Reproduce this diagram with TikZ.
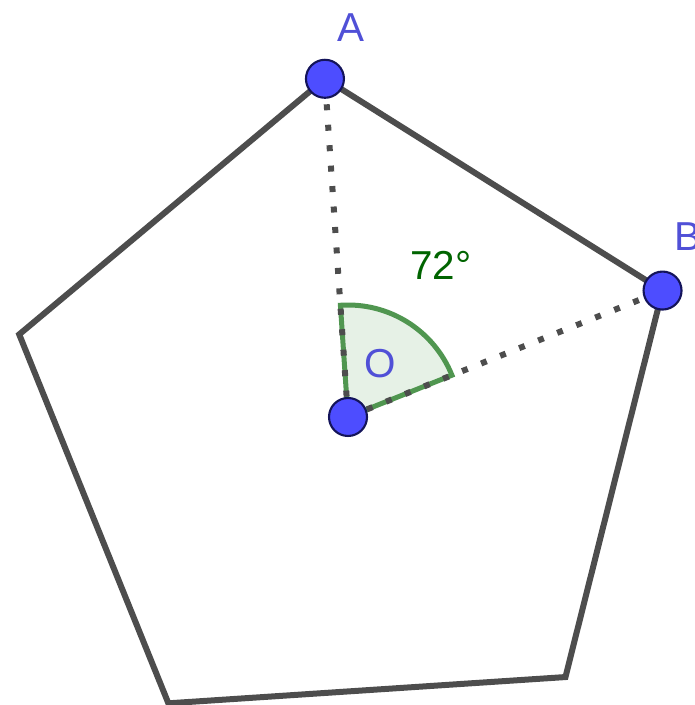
\documentclass[tikz,border=0pt]{standalone}
\usepackage{fontspec}
\setmainfont{Liberation Sans}
\usepackage{tikz}
\usetikzlibrary{positioning, calc}
\definecolor{ptblue}{RGB}{77,77,255}
\definecolor{ptedge}{RGB}{20,20,90}
\definecolor{lblblue}{RGB}{80,80,215}
\definecolor{edgegray}{RGB}{77,77,77}
\definecolor{anggreen}{RGB}{0,100,0}
\definecolor{angarc}{RGB}{80,150,80}
\definecolor{angfill}{RGB}{230,241,230}
\tikzset{
  edge/.style={draw=edgegray, line width=0.12cm, line join=miter},
  dotline/.style={draw=edgegray, line width=0.12cm, dash pattern=on 0.12cm off 0.29cm},
  pt/.style={circle, fill=ptblue, draw=ptedge, line width=1.2pt,
    minimum size=0.76cm, inner sep=0pt},
  ptlabel/.style={text=lblblue, font=\fontsize{23}{27}\selectfont, inner sep=0pt},
  anglabel/.style={text=anggreen, font=\fontsize{23}{27}\selectfont, inner sep=0pt},
  sector/.style={fill=angfill, draw=angarc, line width=0.1cm}
}

\begin{document}
\begin{tikzpicture}[x=0.02cm, y=0.02cm]
  \useasboundingbox (0,0) rectangle (694,705);

  % Centre and vertices
  \coordinate (O) at (348,288);
  \coordinate (A) at ($(O)+(93.9:339)$);
  \coordinate (B) at ($(O)+(21.9:339)$);
  \coordinate (C) at ($(O)+(-50.1:339)$);
  \coordinate (D) at ($(O)+(-122.1:338)$);
  \coordinate (E) at ($(O)+(165.9:339)$);

  % Angle sector
  \draw[sector] (O) -- ++(21.9:112) arc[start angle=21.9, end angle=93.9, radius=2.24cm] -- cycle;

  % Pentagon
  \draw[edge] (A) -- (B) -- (C) -- (D) -- (E) -- cycle;

  % Radii
  \draw[dotline] (O) -- (A);
  \draw[dotline] (O) -- (B);

  % Points
  \node[pt] (pA) at (A) {};
  \node[pt] (pB) at (B) {};
  \node[pt] (pO) at (O) {};

  % Labels
  \node[ptlabel] (labA) at (351,677) {A};
  \node[ptlabel] (labB) at (688,468) {B};
  \node[ptlabel] (labO) at (380,341) {O};
  \node[anglabel] (ang) at (441,440) {72°};
\end{tikzpicture}
\end{document}
